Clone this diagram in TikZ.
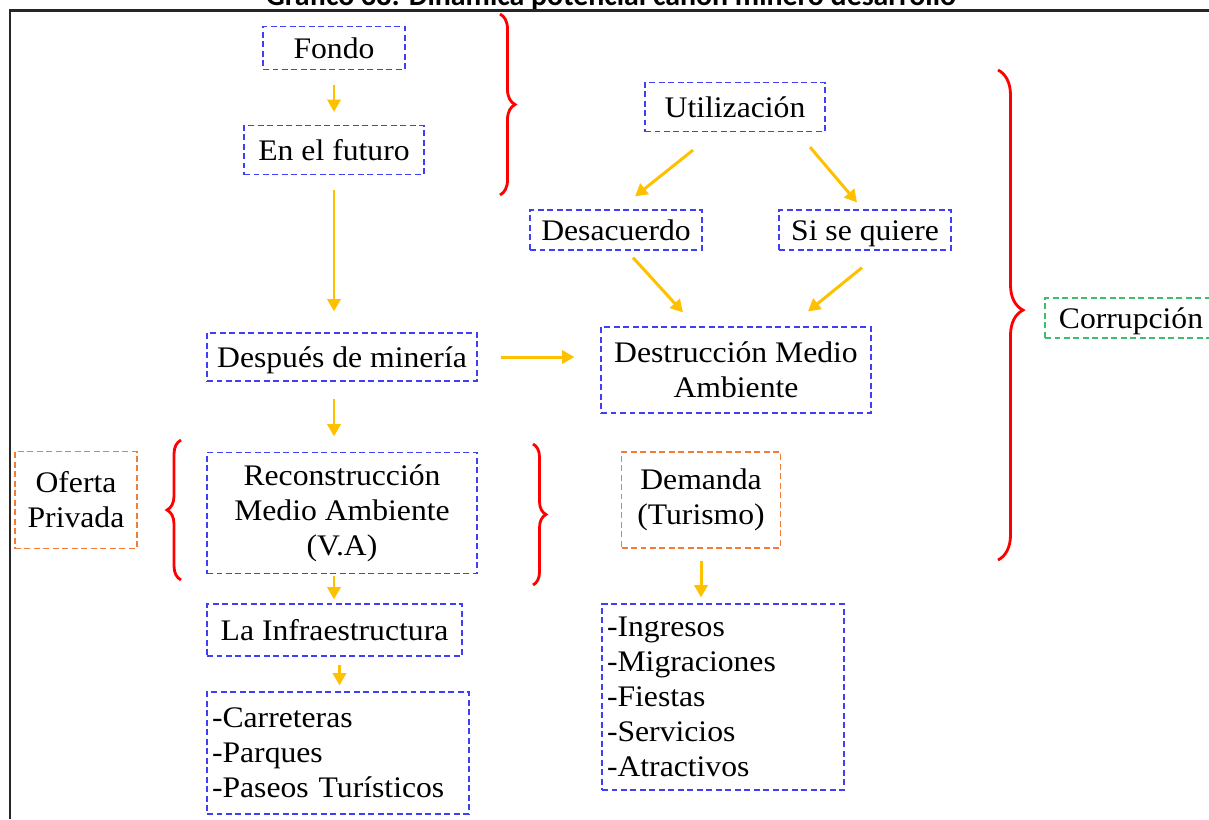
\documentclass[tikz,border=0pt]{standalone}
\usepackage{fontspec}
\setmainfont[FakeStretch=1.06]{Liberation Serif}
\newfontfamily\titlefont{Carlito}
\usetikzlibrary{arrows.meta,positioning,calc,decorations.pathreplacing}
\definecolor{arrowgold}{HTML}{FFC000}
\definecolor{boxblue}{HTML}{3F3FF5}
\definecolor{boxorange}{HTML}{F07D32}
\definecolor{boxgreen}{HTML}{3CBE6E}

\begin{document}
\begin{tikzpicture}[
  x=0.02cm,y=-0.02cm,
  box/.style={draw=boxblue, dash pattern=on 3.4pt off 2pt, line width=0.7pt, align=center, inner sep=2pt, font=\fontsize{17}{20}\selectfont},
  single/.style={text height=12pt, text depth=0pt},
  obox/.style={box, draw=boxorange},
  gbox/.style={box, draw=boxgreen},
  listbox/.style={box, align=left, inner xsep=0.1cm},
  arrow/.style={-{Triangle[length=7pt,width=7.5pt]}, line width=1.7pt, arrowgold},
  rbrace/.style={draw=red, line width=1.6pt, decorate, decoration={brace, amplitude=#1}},
  rbrace/.default=0.3cm
]
\useasboundingbox (0,0) rectangle (1209,819);
\node[font=\titlefont\bfseries\fontsize{17}{20}\selectfont, anchor=base] (titulo) at (611,5) {Gráfico 38: Dinámica potencial canon minero desarrollo};
\draw[line width=0.05cm, black!85] (10,819) -- (10,10.5) -- (1209,10.5);

\node[box, single, minimum width=2.84cm, minimum height=0.86cm] (fondo) at (334,48) {Fondo};
\node[box, single, minimum width=3.6cm, minimum height=0.98cm] (futuro) at (334,150) {En el futuro};
\node[box, single, minimum width=3.6cm, minimum height=0.98cm] (util) at (735,107) {Utilización};
\node[box, single, minimum width=3.44cm, minimum height=0.8cm] (desac) at (616,230) {Desacuerdo};
\node[box, single, minimum width=3.44cm, minimum height=0.8cm] (quiere) at (865,230) {Si se quiere};
\node[box, minimum width=5.4cm, minimum height=1.72cm] (destr) at (736,370) {Destrucción Medio\\Ambiente};
\node[box, single, minimum width=5.4cm, minimum height=0.96cm] (despues) at (342,357) {Después de minería};
\node[gbox, single, minimum width=3.44cm, minimum height=0.8cm] (corrup) at (1131,318) {Corrupción};
\node[obox, minimum width=2.44cm, minimum height=1.94cm] (oferta) at (76,500) {Oferta\\Privada};
\node[box, minimum width=5.4cm, minimum height=2.42cm] (recon) at (342,513) {Reconstrucción\\Medio Ambiente\\(V.A)};
\node[obox, minimum width=3.18cm, minimum height=1.92cm] (demanda) at (701,500) {Demanda\\(Turismo)};
\node[box, single, minimum width=5.1cm, minimum height=1.04cm] (infra) at (334.5,630) {La Infraestructura};
\node[listbox, text width=5.04cm, minimum height=2.44cm] (obras) at (338,753) {-Carreteras\\-Parques\\-Paseos Turísticos};
\node[listbox, text width=4.64cm, minimum height=3.72cm] (efectos) at (723,697) {-Ingresos\\-Migraciones\\-Fiestas\\-Servicios\\-Atractivos};

\draw[arrow, shorten <=0.3cm, shorten >=0.26cm] (fondo) -- (futuro);
\draw[arrow, shorten <=0.3cm, shorten >=0.42cm] (futuro.south) -- (futuro.south |- despues.north);
\draw[arrow, shorten <=0.46cm, shorten >=0.52cm] (despues.east) -- (despues.east -| destr.west);
\draw[arrow, shorten <=0.34cm, shorten >=0.31cm] (futuro.south |- despues.south) -- (futuro.south |- recon.north);
\draw[arrow, shorten <=0.04cm, shorten >=0.08cm] (futuro.south |- recon.south) -- (futuro.south |- infra.north);
\draw[arrow, shorten <=0.16cm, shorten >=0.12cm] ([xshift=0.1cm]infra.south) -- ([xshift=0.1cm]infra.south |- obras.north);
\draw[arrow, shorten <=0.24cm, shorten >=0.12cm] (demanda.south) -- (demanda.south |- efectos.north);
\draw[arrow] ($(util.south)+(-42,18)$) -- ($(desac.north)+(19,-13)$);
\draw[arrow] ($(util.south)+(75,15)$) -- ($(quiere.north)+(-8,-7)$);
\draw[arrow] ($(desac.south)+(17,7)$) -- ($(destr.north)+(-53,-14)$);
\draw[arrow] ($(quiere.south)+(-3,17)$) -- ($(destr.north)+(72,-15)$);

\draw[rbrace=0.3cm] (500,14) -- (500,195);
\draw[rbrace=0.5cm, decoration={aspect=0.49}] (998,70) -- (998,560);
\draw[rbrace=0.28cm] (181,580) -- (181,440);
\draw[rbrace=0.26cm] (533,444) -- (533,585);
\end{tikzpicture}
\end{document}
